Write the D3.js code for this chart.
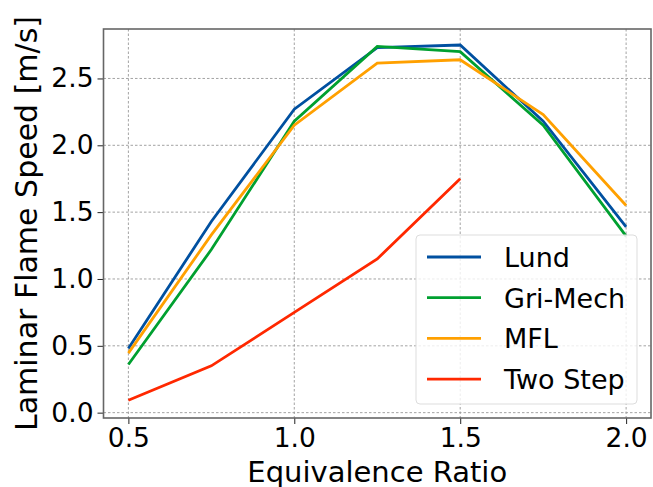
<!DOCTYPE html>
<html>
<head>
<meta charset="utf-8">
<script src="https://cdn.jsdelivr.net/npm/d3@7"></script>
<style>
  html, body { margin: 0; padding: 0; background: #fff; }
  svg { display: block; font-family: "DejaVu Sans", sans-serif; }
</style>
</head>
<body>
<svg id="chart" width="653" height="487"></svg>
<script>
// ---- data ----
const phi = [0.5, 0.75, 1.0, 1.25, 1.5, 1.75, 2.0];
const lund = [0.48, 1.43, 2.27, 2.73, 2.75, 2.18, 1.39];
const griMech = [0.36, 1.22, 2.18, 2.74, 2.70, 2.15, 1.32];
const mfl = [0.445, 1.33, 2.15, 2.615, 2.64, 2.23, 1.55];
const twoStepPhi = [0.5, 0.75, 1.0, 1.25, 1.5];
const twoStep = [0.093, 0.35, 0.75, 1.15, 1.75];
const seriesNames = ["Lund", "Gri-Mech", "MFL", "Two Step"];
const seriesColors = ["#0050a0", "#00a030", "#ffa000", "#ff2800"];
const xTicks = [0.5, 1.0, 1.5, 2.0];
const yTicks = [0.0, 0.5, 1.0, 1.5, 2.0, 2.5];
const xLabel = "Equivalence Ratio";
const yLabel = "Laminar Flame Speed [m/s]";

const series = [
  { name: seriesNames[0], xs: phi, ys: lund, color: seriesColors[0] },
  { name: seriesNames[1], xs: phi, ys: griMech, color: seriesColors[1] },
  { name: seriesNames[2], xs: phi, ys: mfl, color: seriesColors[2] },
  { name: seriesNames[3], xs: twoStepPhi, ys: twoStep, color: seriesColors[3] }
];

const svg = d3.select("#chart");
const pL = 103.5, pR = 651, pT = 29, pB = 418;

const x = d3.scaleLinear().domain([0.425, 2.075]).range([pL, pR]);
const y = d3.scaleLinear().domain([-0.04, 2.87]).range([pB, pT]);

svg.append("defs").append("clipPath").attr("id", "clip")
  .append("rect").attr("x", pL).attr("y", pT)
  .attr("width", pR - pL).attr("height", pB - pT);

// grid
const grid = svg.append("g");
grid.selectAll("line.gx").data(xTicks).join("line").attr("class", "gx")
  .attr("x1", d => x(d)).attr("x2", d => x(d))
  .attr("y1", pT).attr("y2", pB)
  .attr("stroke", "#999").attr("stroke-width", 0.9)
  .attr("stroke-dasharray", "2.5,2");
grid.selectAll("line.gy").data(yTicks).join("line").attr("class", "gy")
  .attr("y1", d => y(d)).attr("y2", d => y(d))
  .attr("x1", pL).attr("x2", pR)
  .attr("stroke", "#999").attr("stroke-width", 0.9)
  .attr("stroke-dasharray", "2.5,2");

// lines
const line = d3.line().x(d => x(d[0])).y(d => y(d[1]));
const lg = svg.append("g").attr("clip-path", "url(#clip)");
series.forEach(s => {
  lg.append("path")
    .datum(s.xs.map((v, i) => [v, s.ys[i]]))
    .attr("d", line)
    .attr("fill", "none")
    .attr("stroke", s.color)
    .attr("stroke-width", 2.8)
    .attr("stroke-linejoin", "miter");
});

// axes
const xAxis = d3.axisBottom(x).tickValues(xTicks).tickFormat(d3.format(".1f")).tickSize(6).tickPadding(4);
const yAxis = d3.axisLeft(y).tickValues(yTicks).tickFormat(d3.format(".1f")).tickSize(6).tickPadding(4);
const gx = svg.append("g").attr("transform", `translate(0,${pB})`).call(xAxis);
const gy = svg.append("g").attr("transform", `translate(${pL},0)`).call(yAxis);
[gx, gy].forEach(g => {
  g.select(".domain").remove();
  g.selectAll(".tick line").attr("stroke", "#222").attr("stroke-width", 1);
  g.selectAll(".tick text").attr("fill", "#000")
    .style("font-family", "'DejaVu Sans', sans-serif").style("font-size", "26.5px");
});

// spines
svg.append("rect").attr("x", pL).attr("y", pT)
  .attr("width", pR - pL).attr("height", pB - pT)
  .attr("fill", "none").attr("stroke", "#666").attr("stroke-width", 1.6);

// axis labels
svg.append("text").attr("x", (pL + pR) / 2).attr("y", 482)
  .attr("text-anchor", "middle").attr("fill", "#000")
  .style("font-size", "29px").text(xLabel);
svg.append("text")
  .attr("transform", `translate(37,${(pT + pB) / 2}) rotate(-90)`)
  .attr("text-anchor", "middle").attr("fill", "#000")
  .style("font-size", "30px").text(yLabel);

// legend
const lgX = 416, lgY = 235, lgW = 221, lgH = 169;
const leg = svg.append("g");
leg.append("rect").attr("x", lgX).attr("y", lgY).attr("width", lgW).attr("height", lgH)
  .attr("rx", 4).attr("fill", "#fff").attr("fill-opacity", 0.8)
  .attr("stroke", "#ddd").attr("stroke-width", 1);
series.forEach((s, i) => {
  const cy = 257 + i * 40.7;
  leg.append("line").attr("x1", 427).attr("x2", 481).attr("y1", cy).attr("y2", cy)
    .attr("stroke", s.color).attr("stroke-width", 2.8);
  leg.append("text").attr("x", 504).attr("y", cy + 10)
    .attr("fill", "#000").style("font-size", "27px").text(s.name);
});
</script>
</body>
</html>
